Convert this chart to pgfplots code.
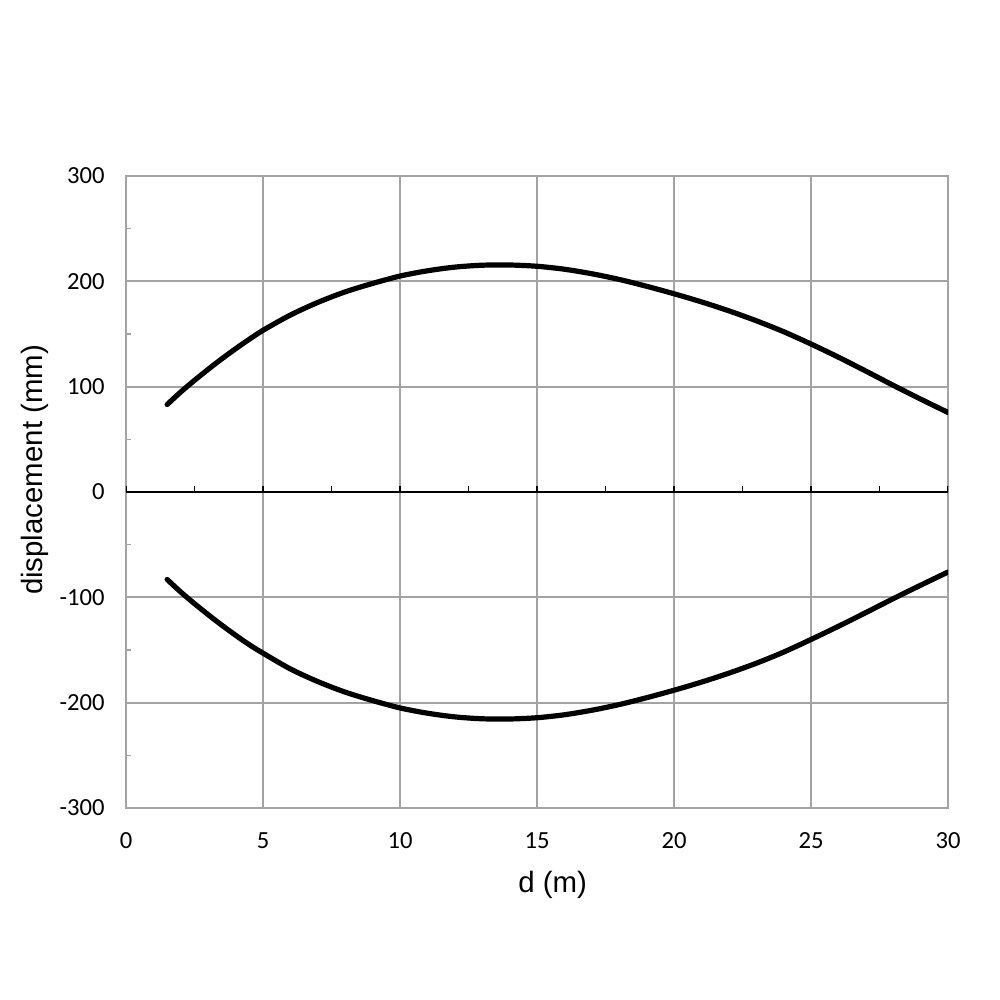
\documentclass[border=0pt]{standalone}
\usepackage{fontspec}
\setmainfont{Liberation Sans}
\newfontfamily\carlito{Carlito}
\usepackage{pgfplots}
\usepackage{pgfplotstable}
\pgfplotsset{compat=1.18}
\definecolor{gridgray}{RGB}{163,163,163}

% upper branch (mm)
\pgfplotstableread{
x y
1.5 83
2 95
2.5 106
3 116.5
3.5 126.5
4 136
4.5 145
5 153.5
6 168
7 180
8 190
9 198
10 205
11 210
12 213.5
13 215.3
14 215.5
15 214.3
16 211.5
17 207.2
18 201.8
19 195.3
20 188.2
21 180.5
22 172
23 162.6
24 152.2
25 140.5
26 128
27 114.8
28 101.3
29 88.2
30 75.5
}\upperdata

% lower branch (mm)
\pgfplotstableread{
x y
1.5 -83
2 -95
2.5 -106
3 -116.5
3.5 -126.5
4 -136
4.5 -145
5 -153
6 -168
7 -180
8 -190
9 -198
10 -205
11 -210
12 -213.5
13 -215.3
14 -215.5
15 -214.3
16 -211.5
17 -207.2
18 -201.8
19 -195.3
20 -188.2
21 -180.5
22 -172
23 -162.6
24 -152
25 -140
26 -127.5
27 -114.5
28 -101.3
29 -88.5
30 -76
}\lowerdata

\begin{document}
\begin{tikzpicture}
\begin{axis}[
    scale only axis,
    width=411pt, height=316pt,
    xmin=0, xmax=30, ymin=-300, ymax=300,
    xtick={0,5,...,30},
    xticklabels={0,5,10,15,20,25,30},
    ytick={-300,-200,...,300},
    yticklabels={-300,-200,-100,0,100,200,300},
    minor ytick={-250,-150,...,250},
    ytick pos=left,
    grid=major,
    major grid style={gridgray, line width=1pt},
    axis line style={gridgray, line width=1pt},
    major tick length=0pt,
    minor tick length=2.5pt,
    tick align=inside,
    minor tick style={gridgray, line width=0.8pt},
    tick label style={font=\carlito\fontsize{12.3}{14}\selectfont, inner sep=0pt},
    yticklabel style={xshift=-10.5pt},
    xticklabel style={yshift=-12pt},
    xlabel={d (m)},
    ylabel={displacement (mm)},
    label style={font=\fontsize{14.7}{17}\selectfont},
    xlabel style={at={(axis description cs:0.519,-0.1218)}, anchor=center},
    ylabel style={at={(axis description cs:-0.1107,0.5348)}, anchor=center},
]
\addplot[black, line width=2.6pt, line cap=round, line join=round, smooth] table[x=x, y=y] {\upperdata};
\addplot[black, line width=2.6pt, line cap=round, line join=round, smooth] table[x=x, y=y] {\lowerdata};
% zero line with its ticks
\draw[black, line width=1pt] (axis cs:0,0) -- (axis cs:30,0);
\pgfplotsinvokeforeach{0,2.5,5,7.5,10,12.5,15,17.5,20,22.5,25,27.5,30}{
  \draw[black, line width=0.8pt] (axis cs:#1,0) -- ([yshift=3pt]axis cs:#1,0);
}
\end{axis}
\pgfresetboundingbox
\path (-63pt,-96pt) rectangle (437pt,404pt);
\end{tikzpicture}
\end{document}
